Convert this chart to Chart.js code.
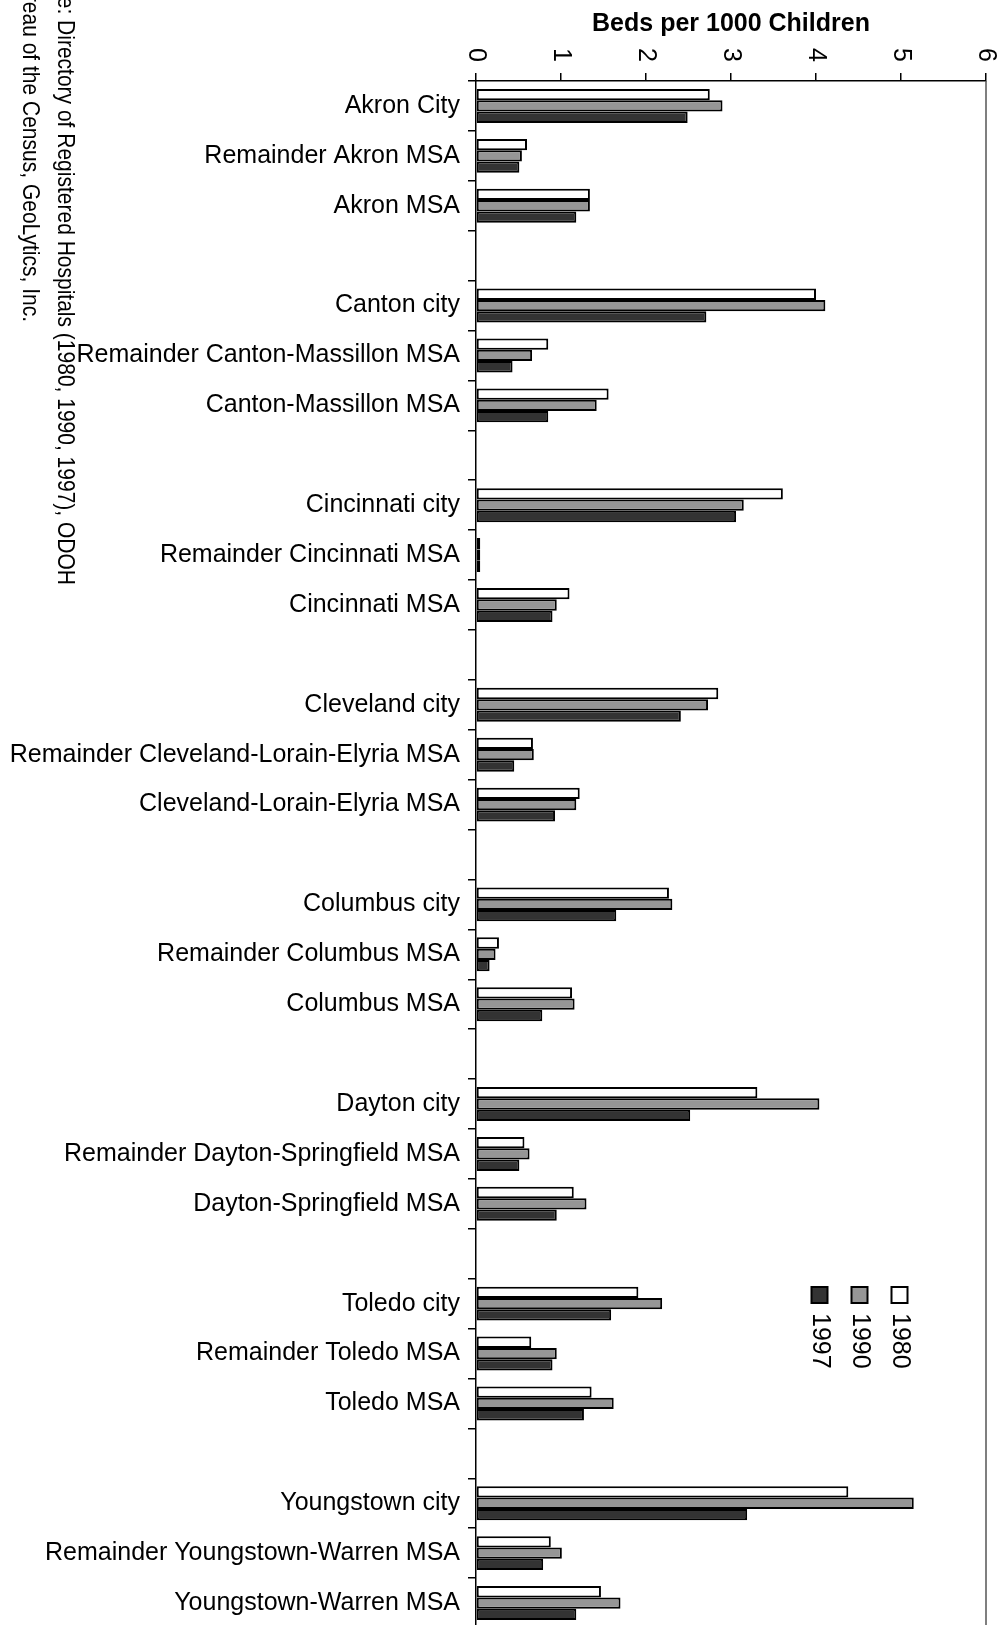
<!DOCTYPE html>
<html>
<head>
<meta charset="utf-8">
<script src="https://cdn.jsdelivr.net/npm/chart.js@4.4.0/dist/chart.umd.min.js"></script>
<style>
    html, body { margin: 0; padding: 0; background: #fff; overflow: hidden; }
</style>
</head>
<body>
<canvas id="bedsChart" width="1000" height="1660"></canvas>
<script>
// categories, blank entries are the gaps between the metro groups
var places = [
    "Akron City", "Remainder Akron MSA", "Akron MSA", "",
    "Canton city", "Remainder Canton-Massillon MSA", "Canton-Massillon MSA", "",
    "Cincinnati city", "Remainder Cincinnati MSA", "Cincinnati MSA", "",
    "Cleveland city", "Remainder Cleveland-Lorain-Elyria MSA", "Cleveland-Lorain-Elyria MSA", "",
    "Columbus city", "Remainder Columbus MSA", "Columbus MSA", "",
    "Dayton city", "Remainder Dayton-Springfield MSA", "Dayton-Springfield MSA", "",
    "Toledo city", "Remainder Toledo MSA", "Toledo MSA", "",
    "Youngstown city", "Remainder Youngstown-Warren MSA", "Youngstown-Warren MSA"
];
var beds1980 = [2.75, 0.60, 1.34, null, 4.00, 0.85, 1.56, null, 3.61, 0.05, 1.10, null,
    2.85, 0.67, 1.22, null, 2.27, 0.27, 1.13, null, 3.31, 0.57, 1.15, null,
    1.91, 0.65, 1.36, null, 4.38, 0.88, 1.47];
var beds1990 = [2.90, 0.54, 1.34, null, 4.11, 0.66, 1.42, null, 3.15, 0.05, 0.95, null,
    2.73, 0.68, 1.18, null, 2.31, 0.23, 1.16, null, 4.04, 0.63, 1.30, null,
    2.19, 0.95, 1.62, null, 5.15, 1.01, 1.70];
var beds1997 = [2.49, 0.51, 1.18, null, 2.71, 0.43, 0.85, null, 3.06, 0.05, 0.90, null,
    2.41, 0.45, 0.93, null, 1.65, 0.16, 0.78, null, 2.52, 0.51, 0.95, null,
    1.59, 0.90, 1.27, null, 3.19, 0.79, 1.18];
var years = ["1980", "1990", "1997"];
var xTicks = [0, 1, 2, 3, 4, 5, 6];
var axisTitle = "Beds per 1000 Children";
var sourceLines = [
    "Source: Directory of Registered Hospitals (1980, 1990, 1997), ODOH",
    "U.S. Bureau of the Census, GeoLytics, Inc."
];

var FONT = "'Liberation Sans', Arial, sans-serif";
var fills = ["#ffffff", "#969696", "#333333"];

// everything that was turned sideways in the original page
var sidewaysText = {
    id: "sidewaysText",
    afterDraw: function (chart) {
        var ctx = chart.ctx;
        var area = chart.chartArea;
        var xScale = chart.scales.x;

        ctx.save();
        // right border of the plot
        ctx.strokeStyle = "#555";
        ctx.lineWidth = 1.5;
        ctx.beginPath();
        ctx.moveTo(area.right, area.top);
        ctx.lineTo(area.right, area.bottom);
        ctx.stroke();

        ctx.fillStyle = "#000";
        // title
        ctx.font = "bold 25px " + FONT;
        ctx.textAlign = "center";
        ctx.textBaseline = "alphabetic";
        ctx.fillText(axisTitle, (area.left + area.right) / 2, 31);

        // value tick labels, rotated clockwise
        ctx.font = "25px " + FONT;
        xTicks.forEach(function (v) {
            ctx.save();
            ctx.translate(xScale.getPixelForValue(v), 55);
            ctx.rotate(Math.PI / 2);
            ctx.textAlign = "center";
            ctx.textBaseline = "middle";
            ctx.fillText(String(v), 0, 0);
            ctx.restore();
        });

        // legend
        years.forEach(function (y, i) {
            var cx = 899.5 - 40 * i;
            ctx.fillStyle = fills[i];
            ctx.fillRect(cx - 8, 1287, 16, 16);
            ctx.strokeStyle = "#000";
            ctx.lineWidth = 2;
            ctx.strokeRect(cx - 8, 1287, 16, 16);
            ctx.fillStyle = "#000";
            ctx.save();
            ctx.translate(cx, 1313);
            ctx.rotate(Math.PI / 2);
            ctx.textAlign = "left";
            ctx.textBaseline = "middle";
            ctx.fillText(y, 0, 0);
            ctx.restore();
        });

        // source note, cut by the page edge
        ctx.font = "21px " + FONT;
        var ends = [[58, 585], [23, 322]];
        sourceLines.forEach(function (line, i) {
            ctx.save();
            ctx.translate(ends[i][0], ends[i][1]);
            ctx.rotate(Math.PI / 2);
            ctx.scale(1, 1.12);
            ctx.textAlign = "right";
            ctx.textBaseline = "alphabetic";
            ctx.fillText(line, 0, 0);
            ctx.restore();
        });
        ctx.restore();
    }
};

function makeSet(label, data, color) {
    return {
        label: label,
        data: data,
        backgroundColor: color,
        borderColor: "#000",
        borderWidth: 2,
        borderSkipped: false,
        categoryPercentage: 0.68,
        barPercentage: 1.0
    };
}

new Chart(document.getElementById("bedsChart").getContext("2d"), {
    type: "bar",
    data: {
        labels: places,
        datasets: [
            makeSet(years[0], beds1980, fills[0]),
            makeSet(years[1], beds1990, fills[1]),
            makeSet(years[2], beds1997, fills[2])
        ]
    },
    options: {
        indexAxis: "y",
        responsive: false,
        animation: false,
        devicePixelRatio: 1,
        layout: { padding: { top: 0, right: 14, bottom: 32, left: 0 } },
        plugins: {
            legend: { display: false },
            tooltip: { enabled: false }
        },
        scales: {
            x: {
                type: "linear",
                position: "top",
                min: 0,
                max: 6,
                ticks: { stepSize: 1, display: false },
                grid: { drawOnChartArea: false, drawTicks: true, tickLength: 8, color: "#000", lineWidth: 1.5 },
                border: { display: true, color: "#000", width: 1.5 },
                afterFit: function (s) { s.height = 81; }
            },
            y: {
                type: "category",
                offset: true,
                ticks: {
                    autoSkip: false,
                    color: "#000",
                    padding: 8,
                    font: { family: FONT, size: 25 }
                },
                grid: { drawOnChartArea: false, drawTicks: true, tickLength: 8, offset: true, color: "#000", lineWidth: 1.5 },
                border: { display: true, color: "#000", width: 1.5 },
                afterFit: function (s) { s.width = 476; }
            }
        }
    },
    plugins: [sidewaysText]
});
</script>
</body>
</html>
